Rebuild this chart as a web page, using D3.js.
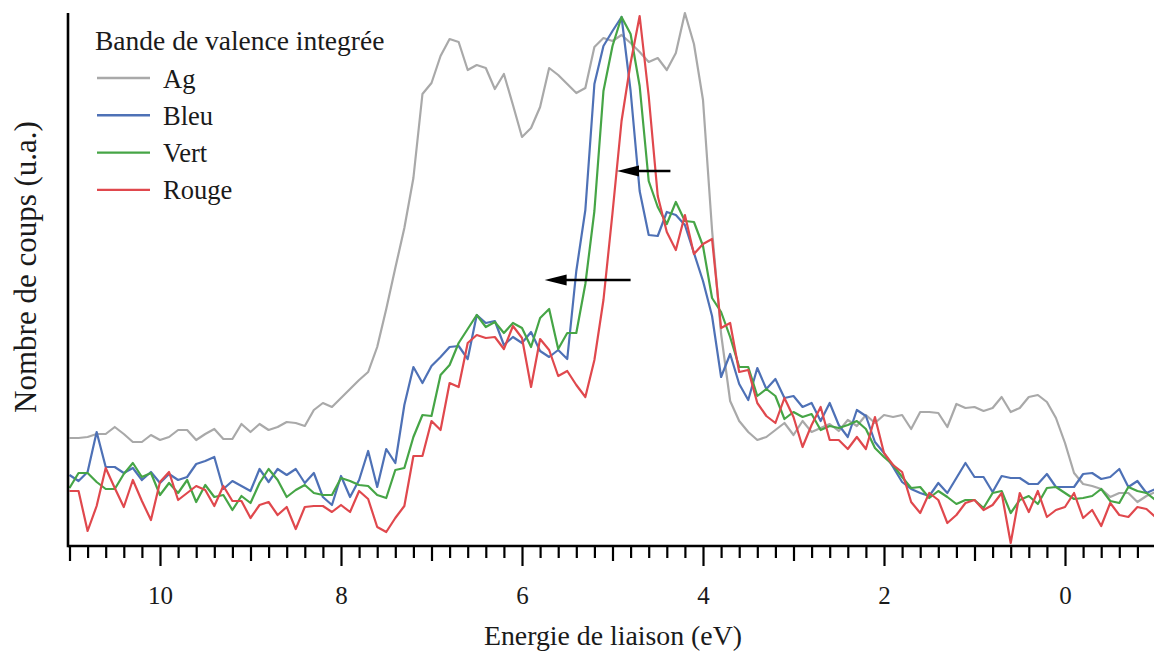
<!DOCTYPE html>
<html><head><meta charset="utf-8">
<script src="https://cdn.jsdelivr.net/npm/d3@7"></script>
<style>
body{margin:0;background:#fff}
svg{display:block}
text{font-family:"Liberation Serif","Times New Roman",serif;fill:#1a1a1a}
</style>
</head><body>
<svg id="c" width="1154" height="653"></svg>
<script>
// Binding energy grid (eV)
const energy = [
 11.0,10.9,10.8,10.7,10.6,10.5,10.4,10.3,10.2,10.1,
 10.0,9.9,9.8,9.7,9.6,9.5,9.4,9.3,9.2,9.1,
 9.0,8.9,8.8,8.7,8.6,8.5,8.4,8.3,8.2,8.1,
 8.0,7.9,7.8,7.7,7.6,7.5,7.4,7.3,7.2,7.1,
 7.0,6.9,6.8,6.7,6.6,6.5,6.4,6.3,6.2,6.1,
 6.0,5.9,5.8,5.7,5.6,5.5,5.4,5.3,5.2,5.1,
 5.0,4.9,4.8,4.7,4.6,4.5,4.4,4.3,4.2,4.1,
 4.0,3.9,3.8,3.7,3.6,3.5,3.4,3.3,3.2,3.1,
 3.0,2.9,2.8,2.7,2.6,2.5,2.4,2.3,2.2,2.1,
 2.0,1.9,1.8,1.7,1.6,1.5,1.4,1.3,1.2,1.1,
 1.0,0.9,0.8,0.7,0.6,0.5,0.4,0.3,0.2,0.1,
 0.0,-0.1,-0.2,-0.3,-0.4,-0.5,-0.6,-0.7,-0.8,-0.9,
 -1.0
];
// Counts (arbitrary units)
const ag = [
 108,108,109,112,112,119,112,104,104,111,
 106,109,116,116,106,112,117,107,107,122,
 114,122,116,119,124,123,120,136,143,139,
 148,157,166,174,199,237,278,318,368,452,
 463,490,507,504,476,481,478,457,472,441,
 409,418,439,478,471,462,453,458,499,508,
 505,511,503,494,484,488,476,493,533,502,
 446,316,212,145,125,114,106,109,116,123,
 111,125,114,118,122,115,126,120,131,123,
 131,129,131,117,134,134,133,119,142,138,
 139,135,138,149,134,138,149,151,144,128,
 103,73,62,60,57,49,53,53,44,50,
 54
];
const bleu = [
 71,65,74,114,79,79,73,78,66,74,
 63,72,66,69,82,85,89,57,65,60,
 55,77,64,77,71,77,63,73,49,41,
 70,49,66,95,59,97,83,141,179,163,
 180,189,199,200,187,231,223,225,201,209,
 203,214,195,189,196,187,275,336,462,500,
 515,529,455,355,311,310,334,331,321,293,
 265,230,169,192,162,146,178,157,167,148,
 150,139,143,125,143,121,109,136,130,104,
 93,79,64,57,53,50,63,53,68,83,
 69,69,54,70,68,68,62,62,72,59,
 59,59,72,73,67,69,77,59,65,53,
 57
];
const vert = [
 58,73,73,64,57,57,72,83,69,73,
 51,63,53,66,44,61,49,51,36,50,
 43,63,77,66,49,56,61,53,51,51,
 68,65,61,60,51,48,76,78,109,131,
 130,171,181,203,217,231,219,224,213,223,
 218,199,228,237,197,213,213,262,335,455,
 500,529,512,460,365,339,322,344,325,324,
 300,248,234,209,179,179,150,157,150,127,
 134,129,132,116,120,118,121,125,117,98,
 89,81,69,58,59,48,55,49,42,46,
 46,38,53,55,33,46,50,42,58,59,
 53,47,48,50,57,45,43,59,55,53,
 46
];
const rouge = [
 55,55,15,40,78,58,39,66,45,26,
 64,74,46,53,60,56,40,60,45,45,
 28,41,44,31,39,17,39,40,40,34,
 41,34,55,47,19,14,28,40,90,90,
 125,116,163,159,203,211,208,209,197,220,
 208,159,207,196,170,175,161,149,186,246,
 333,425,483,530,450,350,314,296,331,292,
 302,307,218,223,174,176,143,130,123,148,
 129,99,121,139,106,106,97,109,97,129,
 93,81,74,44,33,53,46,23,31,43,
 46,36,41,53,3,53,34,55,29,36,
 39,53,28,36,20,43,31,29,39,37,
 29
];
const seriesNames = ["Ag", "Bleu", "Vert", "Rouge"];
const seriesValues = [ag, bleu, vert, rouge];
const seriesColors = ["#a9a9a9", "#4e71b6", "#46a546", "#e0484d"];
const majorTicks = [10, 8, 6, 4, 2, 0];
const oddTicks = [11, 9, 7, 5, 3, 1, -1];
const legendTitle = "Bande de valence integrée";
const xTitle = "Energie de liaison (eV)";
const yTitle = "Nombre de coups (u.a.)";
// Shift arrows: [from eV, to eV, level (u.a.)]
const arrows = [[4.80, 5.75, 266], [4.36, 4.95, 375]];

const svg = d3.select("#c");
const x = d3.scaleLinear().domain([11, -1]).range([69.5, 1155.5]);
const y = d3.scaleLinear().domain([0, 536]).range([546, 10]);
const X0 = 68, YB = 546, YT = 13;

// Series
const line = d3.line().x((d, i) => x(energy[i])).y(d => y(d));
seriesValues.forEach((vals, k) => {
  svg.append("path").datum(vals)
    .attr("d", line)
    .attr("fill", "none")
    .attr("stroke", seriesColors[k])
    .attr("stroke-width", 2.2)
    .attr("stroke-linejoin", "round");
});

// Arrows
arrows.forEach(a => {
  const x1 = x(a[0]), x2 = x(a[1]), yy = y(a[2]);
  svg.append("line").attr("x1", x1).attr("x2", x2 + 12).attr("y1", yy).attr("y2", yy)
    .attr("stroke", "#000").attr("stroke-width", 2.4);
  svg.append("path")
    .attr("d", `M${x2},${yy} L${x2 + 22},${yy - 5.5} L${x2 + 22},${yy + 5.5} Z`)
    .attr("fill", "#000");
});

// X axis ticks
const minorVals = d3.range(0, 61).map(i => +(11 - i * 0.2).toFixed(1))
  .filter(v => v >= -0.85 && Math.abs(v - Math.round(v)) > 0.01);
const gAxis = svg.append("g").attr("transform", `translate(0,${YB})`);
function tickAxis(vals, size) {
  const g = gAxis.append("g").call(
    d3.axisBottom(x).tickValues(vals).tickSize(size).tickFormat(""));
  g.select(".domain").remove();
  g.selectAll("line").attr("stroke", "#000").attr("stroke-width", 2.2);
  return g;
}
tickAxis(minorVals, 12);
tickAxis(oddTicks.filter(v => v > -0.9), 15);
const gMaj = svg.append("g").attr("transform", `translate(0,${YB})`).call(
  d3.axisBottom(x).tickValues(majorTicks).tickSize(20).tickFormat(d3.format("d")));
gMaj.select(".domain").remove();
gMaj.selectAll("line").attr("stroke", "#000").attr("stroke-width", 2.2);
gMaj.selectAll("text").attr("y", 58).attr("dy", 0)
  .style("font-family", '"Liberation Serif", serif').style("font-size", "25px").attr("fill", "#1a1a1a");

// Axis lines
svg.append("line").attr("x1", X0).attr("x2", 1154).attr("y1", YB).attr("y2", YB)
  .attr("stroke", "#000").attr("stroke-width", 2.6);
svg.append("line").attr("x1", X0).attr("x2", X0).attr("y1", YT).attr("y2", YB + 1.3)
  .attr("stroke", "#000").attr("stroke-width", 2.6);

// Axis titles
svg.append("text").attr("x", 613).attr("y", 645).attr("text-anchor", "middle")
  .style("font-size", "27.8px").text(xTitle);
svg.append("text").attr("transform", "translate(36,267) rotate(-90)")
  .attr("text-anchor", "middle").style("font-size", "31px").text(yTitle);

// Legend
const leg = svg.append("g");
leg.append("text").attr("x", 95).attr("y", 50).style("font-size", "27.5px").text(legendTitle);
seriesNames.forEach((n, k) => {
  const ly = 78 + k * 37.3;
  leg.append("line").attr("x1", 97).attr("x2", 150).attr("y1", ly).attr("y2", ly)
    .attr("stroke", seriesColors[k]).attr("stroke-width", 2.4);
  leg.append("text").attr("x", 163).attr("y", ly + 9.5).style("font-size", "26.5px").text(n);
});
</script>
</body></html>
